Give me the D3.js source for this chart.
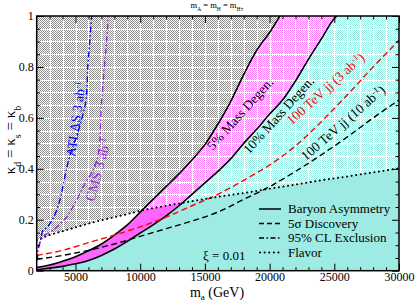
<!DOCTYPE html>
<html>
<meta charset="utf-8">
<head>
<script src="https://cdnjs.cloudflare.com/ajax/libs/d3/7.8.5/d3.min.js"></script>
<style>
  body { margin: 0; background: #fff; }
  text { font-family: "Liberation Serif", "DejaVu Serif", serif; fill: #000; }
</style>
</head>
<body>
<script>

const width = 415,
    height = 303;

// 5% and 10% mass degeneracy (baryon asymmetry) curves
const mass5 = [2000, 3000, 4000, 5000, 6000, 7000, 8000, 9000, 10000, 11000, 12000, 13000, 14000, 15000, 16000, 17000, 18000, 19000, 20000, 20800];
const kappa5 = [0.012, 0.022, 0.037, 0.055, 0.078, 0.105, 0.14, 0.18, 0.23, 0.28, 0.33, 0.38, 0.435, 0.495, 0.575, 0.665, 0.77, 0.865, 0.935, 1.0];
const mass10 = [2000, 3000, 4000, 5000, 6000, 7000, 8000, 9000, 10000, 11000, 12000, 13000, 14000, 15000, 16000, 17000, 18000, 19000, 20000, 21000, 22000, 23000, 24000, 25000, 25200];
const kappa10 = [0.003, 0.01, 0.017, 0.027, 0.04, 0.06, 0.085, 0.115, 0.148, 0.18, 0.215, 0.255, 0.3, 0.345, 0.39, 0.44, 0.5, 0.555, 0.615, 0.67, 0.745, 0.83, 0.91, 0.99, 1.0];

// flavor constraint
const massFlavor = [2000, 3000, 4000, 5000, 6000, 7000, 8000, 9000, 10000, 12000, 14000, 16000, 18000, 20000, 22000, 24000, 26000, 28000, 30000];
const kappaFlavor = [0.12, 0.14, 0.155, 0.17, 0.185, 0.198, 0.21, 0.222, 0.235, 0.255, 0.273, 0.29, 0.305, 0.322, 0.338, 0.355, 0.37, 0.386, 0.402];

// 100 TeV dijet 5 sigma discovery
const massJJ = [2000, 4000, 6000, 8000, 10000, 12000, 14000, 16000, 18000, 20000, 22000, 24000, 26000, 28000, 30000];
const kappaJJ3 = [0.06, 0.08, 0.11, 0.14, 0.172, 0.21, 0.255, 0.3, 0.355, 0.415, 0.49, 0.585, 0.69, 0.8, 0.905];
const kappaJJ10 = [0.045, 0.06, 0.08, 0.105, 0.135, 0.165, 0.195, 0.23, 0.28, 0.33, 0.39, 0.455, 0.525, 0.6, 0.67];

// LHC 95% CL exclusion
const massAtlas = [2050, 2100, 2300, 2500, 2800, 3200, 3550, 3900, 4300, 4700, 5100, 5500, 5810, 5950, 6100, 6250];
const kappaAtlas = [0.04, 0.08, 0.12, 0.16, 0.17, 0.2, 0.238, 0.3, 0.4, 0.474, 0.53, 0.6, 0.67, 0.8, 0.9, 1.0];
const massCms = [2100, 2510, 3280, 4320, 5090, 5740, 6400, 6800, 7000, 7200, 7400, 7540];
const kappaCms = [0.094, 0.134, 0.16, 0.212, 0.278, 0.343, 0.4, 0.47, 0.65, 0.78, 0.9, 1.0];

const xTicks = [5000, 10000, 15000, 20000, 25000, 30000];
const yTicks = [0, 0.2, 0.4, 0.6, 0.8, 1];

const legendLabels = ["Baryon Asymmetry", "5\u03c3 Discovery", "95% CL Exclusion", "Flavor"];
const legendDash = [null, "5,3", "5,2.5,1.5,2.5", "0.1,4.5"];

const pLeft = 36.7, pRight = 399, pTop = 16, pBottom = 270.7;

const x = d3.scaleLinear().domain([2000, 30000]).range([pLeft, pRight]);
const y = d3.scaleLinear().domain([0, 1]).range([pBottom, pTop]);

const svg = d3.select("body")
    .append("svg")
    .attr("width", width)
    .attr("height", height);

const defs = svg.append("defs");

function checker(id, colour) {
    const p = defs.append("pattern")
        .attr("id", id)
        .attr("patternUnits", "userSpaceOnUse")
        .attr("width", 2)
        .attr("height", 2);
    p.append("rect").attr("width", 2).attr("height", 2).attr("fill", "#fff");
    p.append("rect").attr("width", 1).attr("height", 1).attr("fill", colour);
    p.append("rect").attr("x", 1).attr("y", 1).attr("width", 1).attr("height", 1).attr("fill", colour);
}
checker("grayPat", "#8c8c8c");
checker("pinkPat", "#ff7cff");
checker("cyanPat", "#9aeae2");

const pts = (ms, ks) => ms.map((m, i) => [m, ks[i]]);
const c5 = pts(mass5, kappa5);
const c10 = pts(mass10, kappa10);
const cFl = pts(massFlavor, kappaFlavor);

const line = d3.line().x(d => x(d[0])).y(d => y(d[1])).curve(d3.curveMonotoneX);
const lineV = d3.line().x(d => x(d[0])).y(d => y(d[1])).curve(d3.curveCatmullRom);

// region polygons (data corners go through the scales)
const regGray = [[2000, 0]].concat(c5, [[2000, 1]]);
const regPink = c5.concat([[mass10[mass10.length - 1], 1]], c10.slice().reverse());
const regCyan = c10.concat([[30000, 1], [30000, 0]]);
const poly = d3.line().x(d => x(d[0])).y(d => y(d[1]));

// clip below flavor curve / above it
defs.append("clipPath").attr("id", "below")
    .append("path")
    .attr("d", line(cFl) + "L" + x(30000) + "," + y(0) + "L" + x(2000) + "," + y(0) + "Z");
defs.append("clipPath").attr("id", "above")
    .append("path")
    .attr("d", line(cFl) + "L" + x(30000) + "," + y(1) + "L" + x(2000) + "," + y(1) + "Z");
defs.append("clipPath").attr("id", "frame")
    .append("rect").attr("x", pLeft).attr("y", pTop).attr("width", pRight - pLeft).attr("height", pBottom - pTop);

const plot = svg.append("g").attr("clip-path", "url(#frame)");

plot.append("path").attr("d", poly(regGray) + "Z").attr("fill", "url(#grayPat)");
plot.append("path").attr("d", poly(regPink) + "Z").attr("fill", "url(#pinkPat)");
plot.append("path").attr("d", poly(regCyan) + "Z").attr("fill", "url(#cyanPat)");

// white grid over the hatched part
const grid = plot.append("g").attr("clip-path", "url(#above)")
    .attr("stroke", "#fff").attr("stroke-width", 1);
grid.selectAll("line.v")
    .data(d3.range(3000, 30000, 1000))
    .join("line")
    .attr("class", "v")
    .attr("x1", d => Math.round(x(d)) + 0.5).attr("x2", d => Math.round(x(d)) + 0.5)
    .attr("y1", pTop).attr("y2", pBottom);
grid.selectAll("line.h")
    .data(d3.range(0.05, 1, 0.05))
    .join("line")
    .attr("class", "h")
    .attr("y1", d => Math.round(y(d)) + 0.5).attr("y2", d => Math.round(y(d)) + 0.5)
    .attr("x1", pLeft).attr("x2", pRight);

// solid fills below the flavor bound
const solid = plot.append("g").attr("clip-path", "url(#below)");
solid.append("path").attr("d", poly(regGray) + "Z").attr("fill", "#fff");
solid.append("path").attr("d", poly(regPink) + "Z").attr("fill", "#ff66ff");
solid.append("path").attr("d", poly(regCyan) + "Z").attr("fill", "#9eebe3");

// curves
plot.append("path").attr("d", line(c5)).attr("fill", "none").attr("stroke", "#000").attr("stroke-width", 1.6);
plot.append("path").attr("d", line(c10)).attr("fill", "none").attr("stroke", "#000").attr("stroke-width", 1.6);
plot.append("path").attr("d", line(pts(massJJ, kappaJJ3))).attr("fill", "none")
    .attr("stroke", "#ff0000").attr("stroke-width", 1.4).attr("stroke-dasharray", "6,3.5");
plot.append("path").attr("d", line(pts(massJJ, kappaJJ10))).attr("fill", "none")
    .attr("stroke", "#000").attr("stroke-width", 1.4).attr("stroke-dasharray", "6,3.5");
plot.append("path").attr("d", line(cFl)).attr("fill", "none")
    .attr("stroke", "#000").attr("stroke-width", 2).attr("stroke-linecap", "round").attr("stroke-dasharray", "0.1,4.5");
plot.append("path").attr("d", lineV(pts(massAtlas, kappaAtlas))).attr("fill", "none")
    .attr("stroke", "#0000ff").attr("stroke-width", 1.4).attr("stroke-dasharray", "6,2.5,1.5,2.5");
plot.append("path").attr("d", lineV(pts(massCms, kappaCms))).attr("fill", "none")
    .attr("stroke", "#a020f0").attr("stroke-width", 1.4).attr("stroke-dasharray", "6,2.5,1.5,2.5");

// curve labels
function rotLabel(mx, ky, angle, colour, size, parts) {
    const t = svg.append("text")
        .attr("transform", `translate(${x(mx)},${y(ky)}) rotate(${angle})`)
        .style("fill", colour)
        .attr("font-size", size + "px");
    parts.forEach(p => {
        const s = t.append("tspan").text(p[0]);
        if (p[1]) s.attr("baseline-shift", p[1]).attr("font-size", (size * 0.65) + "px");
    });
}
rotLabel(4960, 0.446, -82, "#0000ff", 13.5, [["ATLAS 3 ab"], ["-1", "super"]]);
rotLabel(6450, 0.27, -75, "#a020f0", 14, [["CMS 3 ab"], ["-1", "super"]]);
rotLabel(15600, 0.47, -48, "#000", 13.5, [["5% Mass Degen."]]);
rotLabel(18400, 0.455, -48, "#000", 13.5, [["10% Mass Degen."]]);
rotLabel(21700, 0.57, -42, "#ff0000", 13.5, [["100 TeV jj (3 ab"], ["-1", "super"], [")"]]);
rotLabel(22800, 0.43, -41, "#000", 13.5, [["100 TeV jj (10 ab"], ["-1", "super"], [")"]]);

// legend
const lg = svg.append("g");
legendLabels.forEach((d, i) => {
    const yy = 213 + i * 14.5;
    const l = lg.append("line")
        .attr("x1", 259).attr("x2", 281).attr("y1", yy - 4).attr("y2", yy - 4)
        .attr("stroke", "#000").attr("stroke-width", i === 3 ? 2 : 1.5);
    if (legendDash[i]) l.attr("stroke-dasharray", legendDash[i]);
    if (i === 3) l.attr("stroke-linecap", "round").attr("x1", 260);
    lg.append("text").attr("x", 288).attr("y", yy).attr("font-size", "13px").text(d);
});
svg.append("text").attr("x", 203).attr("y", 260).attr("font-size", "13px").text("\u03be = 0.01");

// axes with inward ticks on all sides
function ax(g, axis) { g.call(axis); g.select(".domain").remove(); g.selectAll("line").attr("stroke", "#000"); }
const minorX = d3.range(3000, 30000, 1000).filter(d => d % 5000 !== 0);
const minorY = d3.range(0.05, 1, 0.05).filter(d => Math.abs(d / 0.2 - Math.round(d / 0.2)) > 1e-6);

ax(svg.append("g").attr("transform", `translate(0,${pBottom})`),
    d3.axisBottom(x).tickValues(xTicks).tickSize(-7).tickPadding(2).tickFormat(d3.format("d")));
ax(svg.append("g").attr("transform", `translate(0,${pBottom})`),
    d3.axisBottom(x).tickValues(minorX).tickSize(-3.5).tickFormat(""));
ax(svg.append("g").attr("transform", `translate(0,${pTop})`),
    d3.axisTop(x).tickValues(xTicks).tickSize(-7).tickFormat(""));
ax(svg.append("g").attr("transform", `translate(0,${pTop})`),
    d3.axisTop(x).tickValues(minorX).tickSize(-3.5).tickFormat(""));
ax(svg.append("g").attr("transform", `translate(${pLeft},0)`),
    d3.axisLeft(y).tickValues(yTicks).tickSize(-7).tickPadding(3).tickFormat(d => d === 0 || d === 1 ? d : d.toFixed(1)));
ax(svg.append("g").attr("transform", `translate(${pLeft},0)`),
    d3.axisLeft(y).tickValues(minorY).tickSize(-3.5).tickFormat(""));
ax(svg.append("g").attr("transform", `translate(${pRight},0)`),
    d3.axisRight(y).tickValues(yTicks).tickSize(-7).tickFormat(""));
ax(svg.append("g").attr("transform", `translate(${pRight},0)`),
    d3.axisRight(y).tickValues(minorY).tickSize(-3.5).tickFormat(""));
svg.selectAll(".tick text")
    .attr("font-family", "Liberation Serif, serif")
    .attr("font-size", "12px")
    .attr("fill", "#000");

svg.append("rect")
    .attr("x", pLeft).attr("y", pTop).attr("width", pRight - pLeft).attr("height", pBottom - pTop)
    .attr("fill", "none").attr("stroke", "#000").attr("stroke-width", 1.5);

// titles
const tt = svg.append("text").attr("x", 217).attr("y", 8).attr("text-anchor", "middle").attr("font-size", "8.5px");
tt.append("tspan").text("m");
tt.append("tspan").text("A").attr("font-size", "5.5px").attr("baseline-shift", "sub");
tt.append("tspan").text(" = m");
tt.append("tspan").text("H").attr("font-size", "5.5px").attr("baseline-shift", "sub");
tt.append("tspan").text(" = m");
tt.append("tspan").text("H\u00b1").attr("font-size", "5.5px").attr("baseline-shift", "sub");

const xl = svg.append("text").attr("x", 217).attr("y", 297).attr("text-anchor", "middle").attr("font-size", "14px");
xl.append("tspan").text("m");
xl.append("tspan").text("a").attr("font-size", "9px").attr("baseline-shift", "-2.5px");
xl.append("tspan").text(" (GeV)");

const yl = svg.append("text").attr("transform", "translate(15,140) rotate(-90)").attr("text-anchor", "middle").attr("font-size", "15px");
yl.append("tspan").text("\u03ba");
yl.append("tspan").text("d").attr("font-size", "10px").attr("baseline-shift", "sub");
yl.append("tspan").text(" = \u03ba");
yl.append("tspan").text("s").attr("font-size", "10px").attr("baseline-shift", "sub");
yl.append("tspan").text(" = \u03ba");
yl.append("tspan").text("b").attr("font-size", "10px").attr("baseline-shift", "sub");

</script>
</body>
</html>
